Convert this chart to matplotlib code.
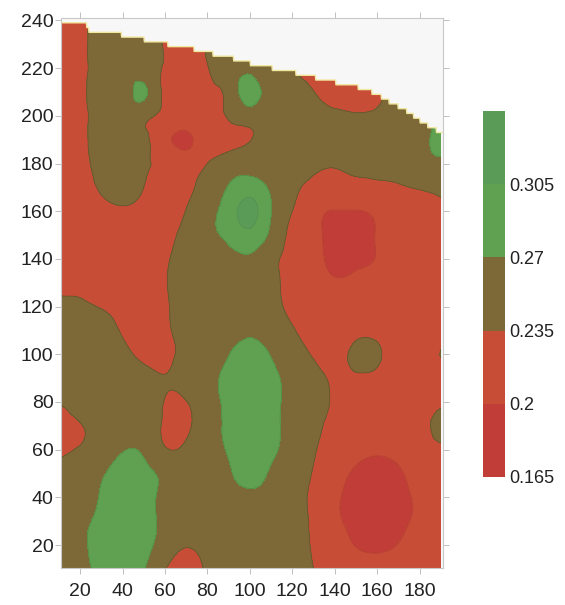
import numpy as np
import matplotlib

matplotlib.use("Agg")
import matplotlib.pyplot as plt
import matplotlib.tri as mtri
from matplotlib.patches import Polygon

plt.rcParams["font.family"] = ["Liberation Sans", "DejaVu Sans"]

# sample grid (x every 10, y every 10), values in thousandths
GRID_X = [10, 20, 30, 40, 50, 60, 70, 80, 90, 100, 110, 120, 130, 140, 150, 160, 170, 180, 190]
GRID_Y = [240, 230, 220, 210, 200, 190, 180, 170, 160, 150, 140, 130,
          120, 110, 100, 90, 80, 70, 60, 50, 40, 30, 20, 10]
VALUES = [
    [220, 229, 245, 252, 249, 232, 223, 238, 252, 252, 252, 250, 240, 240, 240, 240, 245, 252, 252],
    [220, 229, 245, 252, 249, 232, 223, 238, 252, 252, 250, 245, 232, 228, 228, 232, 245, 252, 252],
    [220, 229, 245, 252, 248, 232, 220, 234, 251, 260, 245, 235, 222, 218, 218, 222, 235, 250, 255],
    [220, 229, 245, 252, 276, 226, 218, 229, 245, 285, 252, 250, 236, 222, 220, 228, 245, 252, 258],
    [220, 229, 245, 252, 244, 227, 218, 223, 238, 252, 252, 252, 248, 242, 238, 240, 245, 252, 256],
    [220, 229, 245, 252, 242, 210, 194, 218, 226, 234, 250, 252, 252, 252, 252, 252, 252, 258, 290],
    [220, 228, 244, 252, 240, 225, 220, 235, 250, 254, 252, 250, 241, 238, 243, 245, 249, 252, 258],
    [220, 223, 239, 247, 235, 220, 230, 246, 272, 288, 264, 242, 227, 222, 226, 228, 232, 237, 242],
    [220, 222, 226, 231, 226, 221, 236, 259, 288, 316, 271, 235, 210, 199, 199, 205, 220, 220, 227],
    [220, 220, 220, 220, 220, 227, 243, 260, 280, 295, 262, 228, 210, 190, 190, 202, 220, 220, 220],
    [220, 220, 220, 220, 222, 231, 248, 252, 258, 265, 244, 227, 212, 192, 193, 202, 218, 220, 220],
    [226, 226, 220, 220, 221, 233, 249, 252, 252, 254, 243, 227, 218, 205, 210, 215, 220, 220, 220],
    [242, 241, 233, 224, 220, 231, 248, 252, 252, 258, 246, 229, 220, 220, 220, 220, 220, 220, 220],
    [252, 252, 249, 232, 223, 230, 246, 252, 258, 264, 254, 237, 224, 220, 226, 226, 220, 220, 220],
    [272, 252, 252, 243, 229, 228, 244, 254, 269, 285, 268, 248, 232, 222, 244, 240, 221, 222, 236],
    [255, 252, 252, 252, 245, 236, 247, 260, 279, 290, 279, 260, 246, 230, 229, 227, 220, 220, 220],
    [236, 250, 252, 252, 250, 234, 234, 258, 277, 293, 280, 262, 248, 231, 220, 220, 220, 222, 228],
    [220, 233, 249, 255, 252, 231, 230, 255, 277, 292, 278, 262, 243, 227, 220, 220, 220, 226, 248],
    [228, 238, 252, 268, 265, 238, 240, 256, 273, 289, 276, 259, 238, 222, 210, 205, 210, 220, 228],
    [245, 252, 266, 282, 277, 263, 252, 252, 266, 282, 266, 250, 233, 212, 196, 190, 196, 212, 220],
    [252, 256, 273, 290, 280, 263, 254, 254, 258, 263, 258, 245, 229, 205, 192, 185, 192, 205, 218],
    [252, 263, 278, 290, 280, 263, 252, 252, 252, 255, 252, 245, 230, 206, 193, 186, 193, 206, 218],
    [252, 264, 282, 290, 280, 255, 237, 245, 252, 252, 252, 247, 232, 215, 199, 195, 201, 215, 220],
    [252, 262, 278, 288, 272, 236, 222, 239, 250, 252, 252, 250, 235, 222, 215, 210, 215, 220, 220],
]

# upper edge of the surveyed area (blank above it)
EDGE_X = [10, 23, 24, 34, 45, 58, 72, 79, 90, 104, 117, 131, 142, 151, 159, 167, 175, 181, 192]
EDGE_Y = [239, 238, 236, 235, 233, 230.5, 228.4, 226.7, 224.6, 221, 219, 216, 213.7, 212,
          209.5, 205.3, 201.5, 197.4, 192]

LEVELS = [0.165, 0.2, 0.235, 0.27, 0.305, 0.34]
COLORS = ["#c03e37", "#c84d37", "#7c6937", "#60a151", "#5a9b57"]
LINE_COLORS = ["#a8352f", "#5e4526", "#4e7f3c", "#4f8c4e"]
CBAR_TICKS = [0.165, 0.2, 0.235, 0.27, 0.305]


def main():
    xx, yy = np.meshgrid(GRID_X, GRID_Y)
    z = np.array(VALUES, dtype=float) / 1000.0
    tri = mtri.Triangulation(xx.ravel(), yy.ravel())
    tri_f, z_f = mtri.UniformTriRefiner(tri).refine_field(z.ravel(), subdiv=3)

    fig = plt.figure(figsize=(5.65, 6.05), dpi=100)
    ax = fig.add_axes([0.108, 0.0612, 0.676, 0.909])
    ax.set_facecolor("#f7f7f7")

    # staircase top edge, like the gridded blanking of the original
    xs = np.linspace(10, 192, 900)
    top = np.floor(np.interp(xs, EDGE_X, EDGE_Y) / 2.0) * 2.0 + 1.0
    verts = [(10, 0)] + list(zip(xs, top)) + [(192, 0)]
    clip = Polygon(verts, closed=True, transform=ax.transData)

    cs = ax.tricontourf(tri_f, z_f, levels=LEVELS, colors=COLORS)
    cs.set_clip_path(clip)
    ln = ax.tricontour(tri_f, z_f, levels=LEVELS[1:-1], colors=LINE_COLORS,
                       linewidths=0.6, alpha=0.6)
    ln.set_clip_path(clip)
    ax.plot(xs, top, color="#f1e8a0", lw=1.0)

    ax.set_xlim(11, 191)
    ax.set_ylim(10.4, 241)
    ax.set_xticks(range(20, 181, 20))
    ax.set_yticks(range(20, 241, 20))
    ax.tick_params(axis="both", direction="out", length=4, width=0.6,
                   color="#b4b4b4", labelsize=14, labelcolor="#222222",
                   top=True, right=True)
    ax.tick_params(axis="x", pad=7)
    ax.tick_params(axis="y", pad=1.5)
    for sp in ax.spines.values():
        sp.set_color("#c8c8c8")
        sp.set_linewidth(0.8)

    cax = fig.add_axes([0.855, 0.2116, 0.039, 0.605])
    cb = fig.colorbar(cs, cax=cax, ticks=CBAR_TICKS)
    cb.outline.set_visible(False)
    cb.ax.set_yticklabels([f"{t:g}" for t in CBAR_TICKS])
    cb.ax.tick_params(length=0, labelsize=13, pad=3, labelcolor="#222222")

    fig.savefig("out.png", dpi=100)


if __name__ == "__main__":
    main()
